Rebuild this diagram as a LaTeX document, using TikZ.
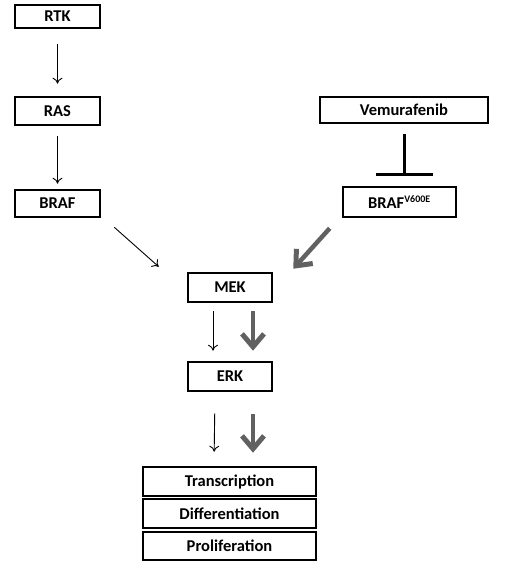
\documentclass[tikz,border=0pt]{standalone}
\usepackage{fontspec}
\setmainfont{Carlito}
\usetikzlibrary{arrows.meta}
\definecolor{thickgray}{gray}{0.38}
\tikzset{
  box/.style={draw=black, line width=2.6pt, fill=white, inner sep=0pt,
    font=\fontsize{16.5}{18}\selectfont\bfseries, anchor=center},
  thin/.style={draw=black, line width=0.9pt, -{To[length=6pt,width=10pt]}},
  thick/.style={draw=thickgray, line width=4.5pt, -{Straight Barb[length=13pt,width=22pt,line width=5pt]}},
  inhib/.style={draw=black, line width=3pt, -{Bar[width=57pt,line width=3pt]}}
}
\begin{document}
\begin{tikzpicture}[x=1pt,y=-1pt]
\useasboundingbox (0,0) rectangle (505,572);
\node[box, minimum width=85pt, minimum height=23pt] (rtk) at (57.5,16.5) {RTK};
\node[box, minimum width=85pt, minimum height=28pt] (ras) at (57.5,111) {RAS};
\node[box, minimum width=85pt, minimum height=27pt] (braf) at (57.5,203.5) {BRAF};
\node[box, minimum width=168pt, minimum height=26pt] (vem) at (404,110) {Vemurafenib};
\node[box, minimum width=113pt, minimum height=30pt] (v600) at (399.5,202) {BRAF\textsuperscript{\fontsize{10}{11}\selectfont V600E}};
\node[box, minimum width=84pt, minimum height=29pt] (mek) at (230,287.5) {MEK};
\node[box, minimum width=84pt, minimum height=29pt] (erk) at (230,376.5) {ERK};
\node[box, minimum width=173pt, minimum height=29pt] (tr) at (229.5,481.5) {Transcription};
\node[box, minimum width=173pt, minimum height=29pt] (di) at (229.5,513.5) {Differentiation};
\node[box, minimum width=173pt, minimum height=28pt] (pr) at (229.5,546) {Proliferation};

\draw[thin, shorten <=15pt, shorten >=12pt] (rtk) -- (ras);
\draw[thin, shorten <=10pt, shorten >=5pt] (ras) -- (braf);
\draw[thin] ([shift={(13,9)}]braf.south east) -- ([shift={(-28,-5)}]mek.north west);
\draw[thick] ([shift={(-12,10)}]v600.south west) -- ([shift={(20,-3)}]mek.north east);
\draw[inhib, shorten >=10pt] ([yshift=-10pt]vem.south) -- (vem.south |- v600.north);
\draw[thin, shorten <=8pt, shorten >=10pt] ([xshift=-17]mek.south) -- ([xshift=-17]erk.north);
\draw[thick, shorten <=8pt, shorten >=10pt] ([xshift=23]mek.south) -- ([xshift=23]erk.north);
\draw[thin, shorten <=21pt, shorten >=14pt] ([xshift=-15]erk.south) -- ([xshift=-15.5]tr.north);
\draw[thick, shorten <=22pt, shorten >=13pt] ([xshift=23]erk.south) -- ([xshift=23.5]tr.north);
\end{tikzpicture}
\end{document}
